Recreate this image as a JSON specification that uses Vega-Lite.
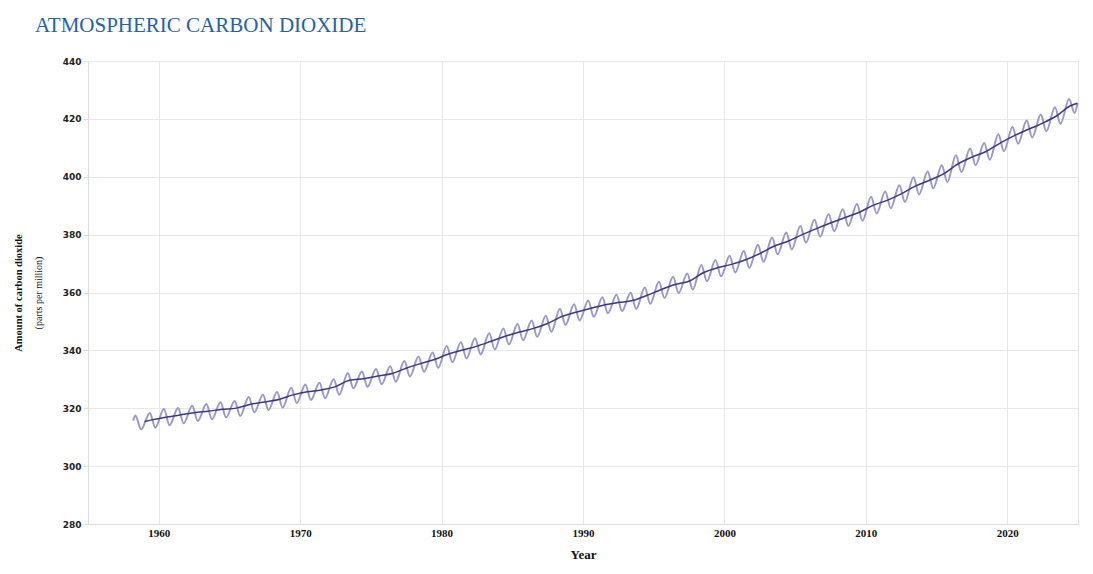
{
  "$schema": "https://vega.github.io/schema/vega-lite/v6.json",
  "autosize": "none",
  "width": 990,
  "height": 463,
  "padding": {"left": 88, "top": 61, "right": 15, "bottom": 50},
  "background": "white",
  "title": {
    "text": "ATMOSPHERIC CARBON DIOXIDE",
    "anchor": "start",
    "frame": "group",
    "dx": -53,
    "offset": 4,
    "baseline": "alphabetic",
    "font": "Liberation Serif",
    "fontSize": 21,
    "fontWeight": "normal",
    "color": "#1f62a8"
  },
  "config": {
    "view": {"stroke": "#e4e4e4"},
    "axis": {"gridColor": "#e8e8e8", "domainColor": "#dcdcdc", "tickColor": "#dcdcdc", "minExtent": 0}
  },
  "datasets": {
    "seasonal": [
      {"year": 1958.2, "co2": 315.7}, {"year": 1958.35, "co2": 317.5}, {"year": 1958.76, "co2": 312.7},
      {"year": 1959.37, "co2": 318.4}, {"year": 1959.76, "co2": 313.3},
      {"year": 1960.37, "co2": 319.8}, {"year": 1960.76, "co2": 314.1},
      {"year": 1961.37, "co2": 320.1}, {"year": 1961.76, "co2": 314.8},
      {"year": 1962.37, "co2": 320.9}, {"year": 1962.76, "co2": 315.6},
      {"year": 1963.37, "co2": 321.5}, {"year": 1963.76, "co2": 316.2},
      {"year": 1964.37, "co2": 322.1}, {"year": 1964.76, "co2": 316.8},
      {"year": 1965.37, "co2": 322.5}, {"year": 1965.76, "co2": 317.3},
      {"year": 1966.37, "co2": 323.9}, {"year": 1966.76, "co2": 318.6},
      {"year": 1967.37, "co2": 324.7}, {"year": 1967.76, "co2": 319.4},
      {"year": 1968.37, "co2": 325.6}, {"year": 1968.76, "co2": 320.2},
      {"year": 1969.37, "co2": 327.1}, {"year": 1969.76, "co2": 321.8},
      {"year": 1970.37, "co2": 328.2}, {"year": 1970.76, "co2": 322.9},
      {"year": 1971.37, "co2": 328.8}, {"year": 1971.76, "co2": 323.5},
      {"year": 1972.37, "co2": 330.0}, {"year": 1972.76, "co2": 324.7},
      {"year": 1973.37, "co2": 332.2}, {"year": 1973.76, "co2": 326.9},
      {"year": 1974.37, "co2": 332.7}, {"year": 1974.76, "co2": 327.4},
      {"year": 1975.37, "co2": 333.6}, {"year": 1975.76, "co2": 328.3},
      {"year": 1976.37, "co2": 334.5}, {"year": 1976.76, "co2": 329.2},
      {"year": 1977.37, "co2": 336.3}, {"year": 1977.76, "co2": 331.0},
      {"year": 1978.37, "co2": 337.9}, {"year": 1978.76, "co2": 332.6},
      {"year": 1979.37, "co2": 339.3}, {"year": 1979.76, "co2": 334.0},
      {"year": 1980.37, "co2": 341.5}, {"year": 1980.76, "co2": 335.9},
      {"year": 1981.37, "co2": 342.8}, {"year": 1981.76, "co2": 337.2},
      {"year": 1982.37, "co2": 344.2}, {"year": 1982.76, "co2": 338.6},
      {"year": 1983.37, "co2": 345.9}, {"year": 1983.76, "co2": 340.3},
      {"year": 1984.37, "co2": 347.6}, {"year": 1984.76, "co2": 342.0},
      {"year": 1985.37, "co2": 349.1}, {"year": 1985.76, "co2": 343.5},
      {"year": 1986.37, "co2": 350.3}, {"year": 1986.76, "co2": 344.7},
      {"year": 1987.37, "co2": 352.0}, {"year": 1987.76, "co2": 346.4},
      {"year": 1988.37, "co2": 354.4}, {"year": 1988.76, "co2": 348.8},
      {"year": 1989.37, "co2": 355.9}, {"year": 1989.76, "co2": 350.3},
      {"year": 1990.37, "co2": 357.2}, {"year": 1990.76, "co2": 351.6},
      {"year": 1991.37, "co2": 358.4}, {"year": 1991.76, "co2": 352.8},
      {"year": 1992.37, "co2": 359.2}, {"year": 1992.76, "co2": 353.6},
      {"year": 1993.37, "co2": 359.9}, {"year": 1993.76, "co2": 354.3},
      {"year": 1994.37, "co2": 361.7}, {"year": 1994.76, "co2": 356.1},
      {"year": 1995.37, "co2": 363.7}, {"year": 1995.76, "co2": 358.1},
      {"year": 1996.37, "co2": 365.4}, {"year": 1996.76, "co2": 359.8},
      {"year": 1997.37, "co2": 366.6}, {"year": 1997.76, "co2": 361.0},
      {"year": 1998.37, "co2": 369.5}, {"year": 1998.76, "co2": 363.9},
      {"year": 1999.37, "co2": 371.2}, {"year": 1999.76, "co2": 365.6},
      {"year": 2000.37, "co2": 372.7}, {"year": 2000.76, "co2": 366.9},
      {"year": 2001.37, "co2": 374.3}, {"year": 2001.76, "co2": 368.5},
      {"year": 2002.37, "co2": 376.5}, {"year": 2002.76, "co2": 370.6},
      {"year": 2003.37, "co2": 379.0}, {"year": 2003.76, "co2": 373.2},
      {"year": 2004.37, "co2": 380.7}, {"year": 2004.76, "co2": 374.9},
      {"year": 2005.37, "co2": 383.0}, {"year": 2005.76, "co2": 377.2},
      {"year": 2006.37, "co2": 385.1}, {"year": 2006.76, "co2": 379.3},
      {"year": 2007.37, "co2": 387.0}, {"year": 2007.76, "co2": 381.2},
      {"year": 2008.37, "co2": 388.8}, {"year": 2008.76, "co2": 383.0},
      {"year": 2009.37, "co2": 390.6}, {"year": 2009.76, "co2": 384.8},
      {"year": 2010.37, "co2": 393.1}, {"year": 2010.76, "co2": 387.3},
      {"year": 2011.37, "co2": 394.9}, {"year": 2011.76, "co2": 389.1},
      {"year": 2012.37, "co2": 397.1}, {"year": 2012.76, "co2": 391.3},
      {"year": 2013.37, "co2": 399.8}, {"year": 2013.76, "co2": 393.9},
      {"year": 2014.37, "co2": 401.8}, {"year": 2014.76, "co2": 396.0},
      {"year": 2015.37, "co2": 404.0}, {"year": 2015.76, "co2": 398.2},
      {"year": 2016.37, "co2": 407.4}, {"year": 2016.76, "co2": 401.6},
      {"year": 2017.37, "co2": 409.8}, {"year": 2017.76, "co2": 404.0},
      {"year": 2018.37, "co2": 411.7}, {"year": 2018.76, "co2": 405.9},
      {"year": 2019.37, "co2": 414.7}, {"year": 2019.76, "co2": 408.8},
      {"year": 2020.37, "co2": 417.2}, {"year": 2020.76, "co2": 411.4},
      {"year": 2021.37, "co2": 419.4}, {"year": 2021.76, "co2": 413.6},
      {"year": 2022.37, "co2": 421.5}, {"year": 2022.76, "co2": 415.7},
      {"year": 2023.37, "co2": 424.0}, {"year": 2023.76, "co2": 418.3},
      {"year": 2024.37, "co2": 426.9}, {"year": 2024.76, "co2": 422.0},
      {"year": 2024.96, "co2": 425.4}
    ],
    "trend": [
      {"year": 1959.0, "co2": 315.4},
      {"year": 1959.5, "co2": 315.98}, {"year": 1960.5, "co2": 316.91}, {"year": 1961.5, "co2": 317.64},
      {"year": 1962.5, "co2": 318.45}, {"year": 1963.5, "co2": 318.99}, {"year": 1964.5, "co2": 319.62},
      {"year": 1965.5, "co2": 320.04}, {"year": 1966.5, "co2": 321.37}, {"year": 1967.5, "co2": 322.18},
      {"year": 1968.5, "co2": 323.05}, {"year": 1969.5, "co2": 324.62}, {"year": 1970.5, "co2": 325.68},
      {"year": 1971.5, "co2": 326.32}, {"year": 1972.5, "co2": 327.46}, {"year": 1973.5, "co2": 329.68},
      {"year": 1974.5, "co2": 330.19}, {"year": 1975.5, "co2": 331.13}, {"year": 1976.5, "co2": 332.03},
      {"year": 1977.5, "co2": 333.84}, {"year": 1978.5, "co2": 335.41}, {"year": 1979.5, "co2": 336.84},
      {"year": 1980.5, "co2": 338.76}, {"year": 1981.5, "co2": 340.12}, {"year": 1982.5, "co2": 341.48},
      {"year": 1983.5, "co2": 343.15}, {"year": 1984.5, "co2": 344.87}, {"year": 1985.5, "co2": 346.35},
      {"year": 1986.5, "co2": 347.61}, {"year": 1987.5, "co2": 349.31}, {"year": 1988.5, "co2": 351.69},
      {"year": 1989.5, "co2": 353.2}, {"year": 1990.5, "co2": 354.45}, {"year": 1991.5, "co2": 355.7},
      {"year": 1992.5, "co2": 356.54}, {"year": 1993.5, "co2": 357.21}, {"year": 1994.5, "co2": 358.96},
      {"year": 1995.5, "co2": 360.97}, {"year": 1996.5, "co2": 362.74}, {"year": 1997.5, "co2": 363.88},
      {"year": 1998.5, "co2": 366.84}, {"year": 1999.5, "co2": 368.54}, {"year": 2000.5, "co2": 369.71},
      {"year": 2001.5, "co2": 371.32}, {"year": 2002.5, "co2": 373.45}, {"year": 2003.5, "co2": 375.98},
      {"year": 2004.5, "co2": 377.7}, {"year": 2005.5, "co2": 379.98}, {"year": 2006.5, "co2": 382.09},
      {"year": 2007.5, "co2": 384.02}, {"year": 2008.5, "co2": 385.83}, {"year": 2009.5, "co2": 387.64},
      {"year": 2010.5, "co2": 390.1}, {"year": 2011.5, "co2": 391.85}, {"year": 2012.5, "co2": 394.06},
      {"year": 2013.5, "co2": 396.74}, {"year": 2014.5, "co2": 398.81}, {"year": 2015.5, "co2": 401.01},
      {"year": 2016.5, "co2": 404.41}, {"year": 2017.5, "co2": 406.76}, {"year": 2018.5, "co2": 408.72},
      {"year": 2019.5, "co2": 411.65}, {"year": 2020.5, "co2": 414.21}, {"year": 2021.5, "co2": 416.41},
      {"year": 2022.5, "co2": 418.53}, {"year": 2023.5, "co2": 421.08}, {"year": 2024.5, "co2": 424.61},
      {"year": 2024.96, "co2": 425.4}
    ]
  },
  "encoding": {
    "x": {
      "field": "year",
      "type": "quantitative",
      "scale": {"domain": [1955, 2025], "nice": false, "zero": false},
      "axis": {
        "title": "Year",
        "values": [1960, 1970, 1980, 1990, 2000, 2010, 2020],
        "format": "d",
        "ticks": false,
        "labelPadding": 3,
        "labelFont": "Liberation Serif",
        "labelFontSize": 11,
        "labelFontWeight": "bold",
        "labelColor": "#111",
        "titleFont": "Liberation Serif",
        "titleFontSize": 13,
        "titleFontWeight": "bold",
        "titleColor": "#111",
        "titlePadding": 10
      }
    }
  },
  "layer": [
    {
      "data": {"name": "seasonal"},
      "mark": {"type": "line", "interpolate": "monotone", "color": "#9a98cb", "strokeWidth": 2},
      "encoding": {
        "y": {
          "field": "co2",
          "type": "quantitative",
          "scale": {"domain": [280, 440], "nice": false, "zero": false},
          "axis": {
            "title": "Amount of carbon dioxide",
            "values": [280, 300, 320, 340, 360, 380, 400, 420, 440],
            "tickSize": 5,
            "labelFont": "DejaVu Sans",
            "labelFontSize": 9,
            "labelFontWeight": "bold",
            "labelColor": "#222",
            "titleFont": "Liberation Serif",
            "titleFontSize": 10.5,
            "titleFontWeight": "bold",
            "titleColor": "#111",
            "titlePadding": 39
          }
        }
      }
    },
    {
      "data": {"name": "trend"},
      "mark": {"type": "line", "interpolate": "monotone", "color": "#3c3689", "strokeWidth": 1.5},
      "encoding": {
        "y": {
          "field": "co2",
          "type": "quantitative",
          "axis": {
            "title": "(parts per million)",
            "orient": "left",
            "labels": false,
            "ticks": false,
            "domain": false,
            "grid": false,
            "minExtent": 0,
            "titleFont": "Liberation Serif",
            "titleFontSize": 10,
            "titleFontWeight": "normal",
            "titleColor": "#111",
            "titlePadding": 45
          }
        }
      }
    }
  ],
  "resolve": {"axis": {"y": "independent"}}
}
